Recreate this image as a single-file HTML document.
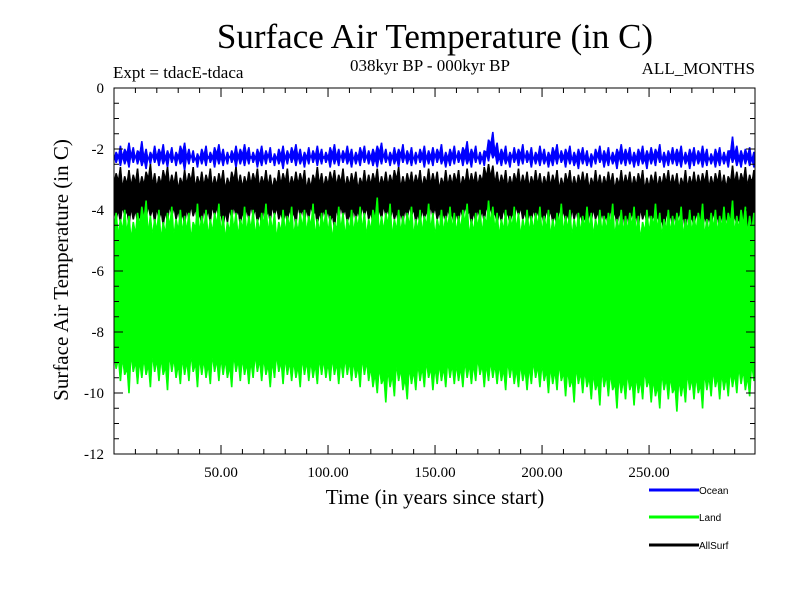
<!DOCTYPE html>
<html><head><meta charset="utf-8"><style>
body{margin:0;background:#fff}
svg{display:block}
text{font-family:"Liberation Serif",serif;fill:#000}
</style></head><body>
<svg id="chart" width="800" height="600">
<rect width="800" height="600" fill="#fff"/>
<text x="435" y="48" font-size="35" text-anchor="middle">Surface Air Temperature (in C)</text>
<text x="113" y="78" font-size="17">Expt = tdacE-tdaca</text>
<text x="430" y="71" font-size="17" text-anchor="middle">038kyr BP - 000kyr BP</text>
<text x="755" y="74" font-size="17" text-anchor="end">ALL_MONTHS</text>
<g id="series"></g>
<g id="axes"></g>
<text x="435" y="504" font-size="21" text-anchor="middle">Time (in years since start)</text>
<text transform="translate(68,270) rotate(-90)" font-size="21" text-anchor="middle">Surface Air Temperature (in C)</text>
<g id="legend"></g>
</svg>
<script>
const years=[];for(let i=0;i<150;i++)years.push(1+i*2);
const yTicks=[0,-2,-4,-6,-8,-10,-12];
const xTicks=[50,100,150,200,250];
const xTickLabels=["50.00","100.00","150.00","200.00","250.00"];
const seriesNames=["Ocean","Land","AllSurf"];
const oceanHi=[
-2.1,-1.9,-2.0,-1.8,-1.95,-2.05,-1.75,-2.0,-2.1,-1.9,
-2.0,-1.85,-2.05,-1.95,-2.1,-1.9,-1.8,-2.0,-2.05,-2.15,
-2.0,-1.9,-2.1,-1.95,-1.85,-2.0,-2.1,-2.05,-1.9,-2.0,
-1.85,-1.95,-2.1,-2.0,-1.9,-2.05,-1.95,-2.15,-2.0,-1.9,
-2.05,-1.95,-1.85,-2.0,-2.1,-1.95,-2.05,-1.9,-2.0,-2.1,
-1.95,-1.85,-2.0,-2.05,-1.9,-2.0,-2.1,-1.95,-1.9,-2.05,
-2.0,-1.9,-1.8,-2.0,-2.1,-1.95,-2.0,-1.85,-2.05,-1.95,
-2.1,-2.0,-1.9,-2.05,-1.95,-2.0,-1.85,-2.1,-2.0,-1.9,
-2.05,-1.95,-1.75,-2.0,-1.9,-2.1,-2.05,-1.7,-1.45,-1.8,
-2.0,-1.9,-2.1,-1.95,-2.0,-1.85,-2.05,-1.95,-2.1,-1.9,
-2.0,-2.1,-1.95,-1.85,-2.05,-2.0,-1.9,-2.1,-2.0,-1.95,
-2.05,-2.15,-2.0,-1.9,-2.05,-1.95,-2.1,-2.0,-1.85,-2.0,
-1.95,-2.1,-2.0,-1.9,-2.05,-1.95,-2.0,-1.85,-2.1,-2.05,
-1.95,-2.0,-1.9,-2.1,-2.0,-1.95,-2.05,-1.9,-2.0,-2.15,
-2.0,-1.95,-2.1,-2.05,-1.6,-1.9,-2.05,-2.0,-1.95,-2.1];
const oceanLo=[
-2.45,-2.55,-2.5,-2.6,-2.45,-2.5,-2.55,-2.65,-2.5,-2.45,
-2.55,-2.5,-2.6,-2.45,-2.55,-2.5,-2.7,-2.5,-2.45,-2.6,
-2.5,-2.55,-2.45,-2.6,-2.5,-2.55,-2.5,-2.45,-2.6,-2.5,
-2.55,-2.5,-2.45,-2.6,-2.55,-2.5,-2.45,-2.55,-2.5,-2.65,
-2.5,-2.45,-2.55,-2.5,-2.6,-2.5,-2.45,-2.55,-2.5,-2.45,
-2.6,-2.5,-2.55,-2.45,-2.5,-2.6,-2.5,-2.55,-2.45,-2.5,
-2.55,-2.6,-2.5,-2.45,-2.55,-2.5,-2.6,-2.45,-2.5,-2.55,
-2.5,-2.45,-2.6,-2.5,-2.55,-2.45,-2.5,-2.6,-2.55,-2.5,
-2.45,-2.55,-2.5,-2.6,-2.45,-2.5,-2.55,-2.4,-2.3,-2.5,
-2.55,-2.5,-2.6,-2.45,-2.55,-2.5,-2.45,-2.6,-2.5,-2.55,
-2.5,-2.6,-2.55,-2.5,-2.45,-2.6,-2.5,-2.55,-2.65,-2.5,
-2.55,-2.6,-2.5,-2.45,-2.6,-2.55,-2.5,-2.65,-2.5,-2.55,
-2.5,-2.6,-2.55,-2.5,-2.65,-2.5,-2.55,-2.45,-2.6,-2.55,
-2.5,-2.55,-2.6,-2.5,-2.65,-2.55,-2.5,-2.6,-2.55,-2.5,
-2.6,-2.55,-2.5,-2.6,-2.45,-2.55,-2.6,-2.5,-2.55,-2.6];
const allHi=[
-2.8,-2.6,-2.9,-2.7,-2.85,-2.65,-2.9,-2.75,-2.5,-2.8,
-2.9,-2.7,-2.6,-2.85,-2.75,-2.95,-2.7,-2.8,-2.6,-2.9,
-2.75,-2.85,-2.65,-2.9,-2.8,-2.7,-2.95,-2.75,-2.6,-2.85,
-2.9,-2.75,-2.8,-2.65,-2.9,-2.7,-2.85,-2.95,-2.7,-2.8,
-2.65,-2.9,-2.75,-2.8,-2.7,-2.95,-2.85,-2.6,-2.8,-2.9,
-2.75,-2.7,-2.85,-2.65,-2.9,-2.8,-2.75,-2.95,-2.7,-2.85,
-2.8,-2.65,-2.9,-2.75,-2.85,-2.7,-2.6,-2.9,-2.8,-2.75,
-2.85,-2.7,-2.9,-2.65,-2.8,-2.75,-2.95,-2.7,-2.85,-2.8,
-2.7,-2.9,-2.65,-2.8,-2.75,-2.85,-2.6,-2.5,-2.55,-2.75,
-2.85,-2.7,-2.9,-2.8,-2.65,-2.85,-2.75,-2.9,-2.7,-2.8,
-2.9,-2.75,-2.85,-2.7,-2.95,-2.8,-2.7,-2.9,-2.85,-2.75,
-2.8,-2.95,-2.7,-2.85,-2.9,-2.75,-2.8,-2.95,-2.7,-2.85,
-2.75,-2.9,-2.8,-2.7,-2.95,-2.85,-2.75,-2.9,-2.8,-2.7,
-2.85,-2.8,-2.95,-2.7,-2.9,-2.75,-2.85,-2.8,-2.7,-2.9,
-2.8,-2.7,-2.85,-2.9,-2.55,-2.75,-2.8,-2.6,-2.85,-2.7];
const allLo=[
-4.3,-4.4,-4.2,-4.5,-4.3,-4.4,-4.6,-4.3,-4.2,-4.4,
-4.3,-4.5,-4.4,-4.2,-4.3,-4.4,-4.5,-4.3,-4.2,-4.4,
-4.5,-4.3,-4.4,-4.2,-4.3,-4.6,-4.4,-4.3,-4.2,-4.5,
-4.4,-4.3,-4.2,-4.4,-4.5,-4.3,-4.4,-4.2,-4.3,-4.5,
-4.4,-4.3,-4.5,-4.2,-4.4,-4.3,-4.2,-4.5,-4.4,-4.3,
-4.4,-4.6,-4.3,-4.2,-4.4,-4.5,-4.3,-4.4,-4.2,-4.3,
-4.5,-4.4,-4.3,-4.2,-4.4,-4.3,-4.5,-4.4,-4.3,-4.2,
-4.4,-4.5,-4.3,-4.4,-4.2,-4.3,-4.5,-4.4,-4.3,-4.6,
-4.4,-4.3,-4.2,-4.5,-4.4,-4.3,-4.4,-4.2,-4.3,-4.5,
-4.4,-4.3,-4.5,-4.4,-4.2,-4.3,-4.5,-4.4,-4.3,-4.4,
-4.5,-4.3,-4.4,-4.6,-4.3,-4.4,-4.5,-4.3,-4.4,-4.5,
-4.6,-4.4,-4.3,-4.5,-4.4,-4.6,-4.3,-4.5,-4.4,-4.7,
-4.5,-4.4,-4.6,-4.3,-4.5,-4.4,-4.6,-4.5,-4.8,-4.4,
-4.6,-4.5,-4.4,-4.7,-4.5,-4.6,-4.4,-4.9,-4.5,-4.6,
-4.4,-4.7,-4.5,-4.6,-4.8,-4.5,-4.7,-4.6,-4.9,-5.0];
const landHi=[
-4.1,-4.3,-4.0,-4.2,-4.4,-4.1,-3.9,-3.7,-4.2,-4.3,
-4.0,-4.4,-4.1,-3.9,-4.3,-4.0,-4.2,-4.1,-4.4,-3.8,
-4.2,-4.0,-4.3,-4.1,-3.8,-4.2,-4.4,-4.0,-4.1,-4.3,
-3.9,-4.2,-4.0,-4.3,-4.1,-3.8,-4.2,-4.1,-4.4,-4.0,
-4.2,-3.9,-4.3,-4.1,-4.0,-4.2,-3.8,-4.3,-4.1,-4.0,
-4.2,-4.4,-3.9,-4.1,-4.3,-4.0,-4.2,-3.9,-4.1,-4.3,
-4.0,-3.6,-4.2,-4.1,-3.8,-4.3,-4.0,-4.2,-4.1,-3.9,
-4.3,-4.0,-4.2,-3.8,-4.1,-4.3,-4.0,-4.2,-3.9,-4.1,
-4.2,-4.0,-3.8,-4.3,-4.1,-4.0,-4.2,-3.7,-3.9,-4.1,
-4.3,-4.0,-4.2,-3.9,-4.1,-4.3,-4.0,-4.2,-4.1,-3.9,
-4.2,-4.0,-4.3,-4.1,-3.8,-4.2,-4.0,-4.3,-4.1,-4.2,
-3.9,-4.1,-4.3,-4.0,-4.2,-4.1,-3.8,-4.3,-4.0,-4.2,
-4.1,-3.9,-4.2,-4.4,-4.0,-4.2,-3.8,-4.1,-4.3,-4.0,
-4.2,-4.1,-3.9,-4.3,-4.0,-4.2,-4.1,-3.8,-4.3,-4.1,
-4.0,-4.2,-3.9,-4.1,-3.7,-4.2,-4.0,-3.9,-4.2,-4.1];
const landLo=[
-9.2,-9.6,-9.4,-10.0,-9.3,-9.7,-9.5,-9.4,-9.8,-9.3,
-9.6,-9.4,-9.9,-9.3,-9.5,-9.7,-9.4,-9.6,-9.3,-9.8,
-9.4,-9.5,-9.7,-9.3,-9.6,-9.4,-9.5,-9.8,-9.3,-9.6,
-9.4,-9.7,-9.5,-9.3,-9.6,-9.4,-9.8,-9.5,-9.3,-9.7,
-9.4,-9.6,-9.5,-9.8,-9.4,-9.6,-9.5,-9.7,-9.4,-9.5,
-9.6,-9.4,-9.7,-9.5,-9.4,-9.6,-9.5,-9.8,-9.4,-9.6,
-9.8,-10.0,-9.7,-10.3,-9.8,-10.1,-9.6,-9.9,-10.2,-9.7,
-9.9,-9.6,-9.8,-9.5,-9.9,-9.7,-9.6,-9.8,-9.5,-9.7,
-9.6,-9.8,-9.5,-9.7,-9.6,-9.4,-9.8,-9.6,-9.5,-9.7,
-9.6,-9.9,-9.5,-9.7,-9.8,-9.6,-9.9,-9.7,-9.5,-9.8,
-9.6,-10.0,-9.7,-9.9,-9.6,-10.1,-9.8,-10.3,-9.7,-10.0,
-9.8,-10.2,-9.9,-10.4,-9.8,-10.1,-9.9,-10.5,-10.0,-10.2,
-9.9,-10.4,-10.0,-10.2,-9.8,-10.3,-10.1,-10.5,-9.9,-10.2,
-10.0,-10.6,-10.1,-10.3,-9.9,-10.2,-10.0,-10.5,-9.9,-10.1,
-9.8,-10.2,-9.9,-10.1,-9.8,-10.0,-9.7,-9.9,-10.1,-9.6];
const L=114,R=755,T=88,B=454;
const xMin=0,xMax=299.5,yMin=-12,yMax=0;
function sx(v){return L+(v-xMin)/(xMax-xMin)*(R-L);}
function sy(v){return T+(yMax-v)/(yMax-yMin)*(B-T);}
const NS="http://www.w3.org/2000/svg";
function mk(tag,attrs,parent){const e=document.createElementNS(NS,tag);for(const k in attrs)e.setAttribute(k,attrs[k]);parent.appendChild(e);return e;}
function cx(x){return Math.min(R,Math.max(L,x));}
const sg=document.getElementById('series');
const series=[["ocean",oceanHi,oceanLo,"#0000ff",0.22],["allsurf",allHi,allLo,"#000",0.3],["land",landHi,landLo,"#00ff00",0.45]];
const bw=sx(2)-sx(0);
series.forEach(s=>{
  const hi=s[1],lo=s[2],dip=s[4],n=years.length;
  let top=[],bot=[];
  for(let i=0;i<n;i++){
    const x=sx(years[i]);
    top.push([cx(x-bw*0.5),sy(Math.min(hi[i]-dip,(hi[i]+(i>0?hi[i-1]:hi[i]))/2-dip))]);
    top.push([cx(x-bw*0.12),sy(hi[i])]);
    top.push([cx(x+bw*0.12),sy(hi[i])]);
    bot.push([cx(x-bw*0.5),sy(Math.max(lo[i]+dip,(lo[i]+(i>0?lo[i-1]:lo[i]))/2+dip))]);
    bot.push([cx(x-bw*0.12),sy(lo[i])]);
    bot.push([cx(x+bw*0.12),sy(lo[i])]);
  }
  top.push([R,sy(hi[n-1]-dip)]);bot.push([R,sy(lo[n-1]+dip)]);
  const pts=top.concat(bot.reverse()).map(p=>p[0].toFixed(2)+','+p[1].toFixed(2)).join(' ');
  const p=mk('polygon',{points:pts,fill:s[3],stroke:s[3],'stroke-width':0.6},sg);
  
  
});
const ag=document.getElementById('axes');
const frame=mk('rect',{x:L,y:T,width:R-L,height:B-T,fill:'none',stroke:'#000','stroke-width':1},ag);


for(let v=10;v<300;v+=10){
  const big=v%50===0,len=big?9:5,x=sx(v);
  mk('line',{x1:x,y1:B,x2:x,y2:B-len,stroke:'#000'},ag);
  mk('line',{x1:x,y1:T,x2:x,y2:T+len,stroke:'#000'},ag);
}
for(let v=-11.5;v<0;v+=0.5){
  const big=Math.abs(v%2)<1e-6,len=big?9:5,y=sy(v);
  mk('line',{x1:L,y1:y,x2:L+len,y2:y,stroke:'#000'},ag);
  mk('line',{x1:R,y1:y,x2:R-len,y2:y,stroke:'#000'},ag);
}
yTicks.forEach(v=>{
  const t=mk('text',{x:104,y:sy(v)+5,'font-size':15,'text-anchor':'end'},ag);
  t.textContent=String(v);
  
  
});
xTicks.forEach((v,i)=>{
  const t=mk('text',{x:sx(v),y:477,'font-size':15,'text-anchor':'middle'},ag);
  t.textContent=xTickLabels[i];
  
  
});
const lg=document.getElementById('legend');
const lcols=["#0000ff","#00ff00","#000"],lys=[490,517,545];
seriesNames.forEach((n,i)=>{
  const g=mk('g',{},lg);
  
  
  mk('line',{x1:649,y1:lys[i],x2:699,y2:lys[i],stroke:lcols[i],'stroke-width':3},g);
  const t=mk('text',{x:699,y:lys[i]+4,'font-size':10,style:'font-family:"Liberation Sans",sans-serif'},g);
  t.textContent=n;
});
</script>
</body></html>
